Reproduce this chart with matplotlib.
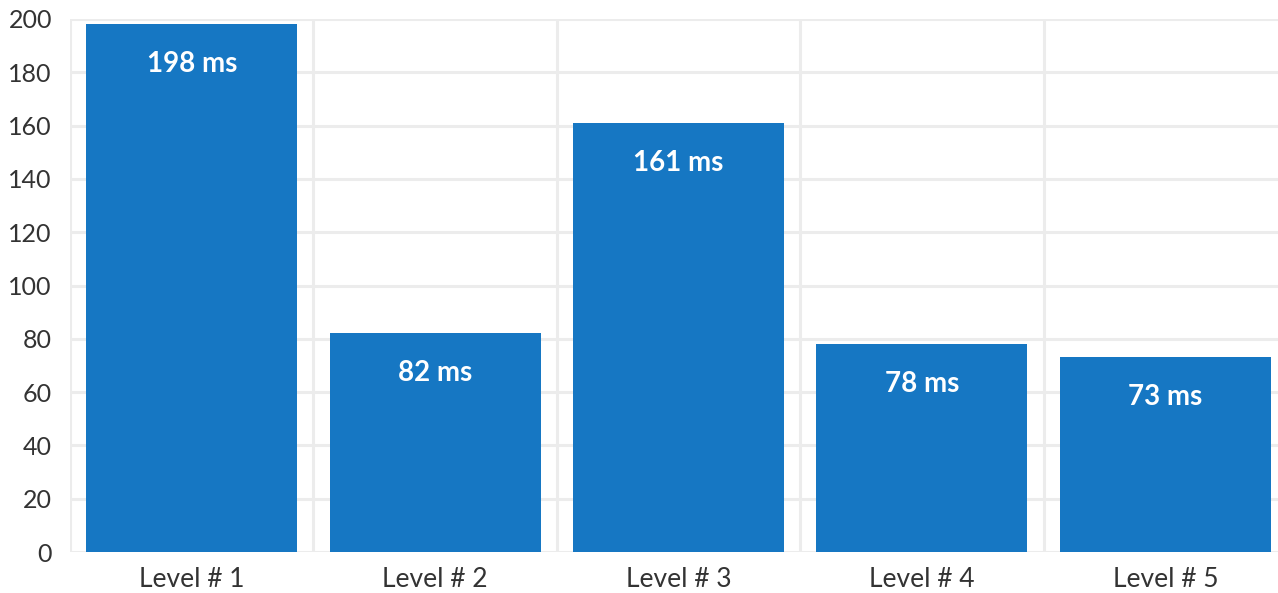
import numpy as np
import matplotlib.pyplot as plt

levels = ['Level # 1', 'Level # 2', 'Level # 3', 'Level # 4', 'Level # 5']
times_ms = [198, 82, 161, 78, 73]
yticks = [0, 20, 40, 60, 80, 100, 120, 140, 160, 180, 200]

plt.rcParams['font.family'] = ['Lato', 'DejaVu Sans']

W, H = 1278, 593
fig = plt.figure(figsize=(W / 100, H / 100), dpi=100)
# plot area: left edge at x=70, bottom at y=552, top at y=19, last category runs slightly past the edge
ax = fig.add_axes([70 / W, (H - 552) / H, (1287 - 70) / W, (552 - 19) / H])

grid_color = '#ececec'
x = np.arange(len(levels))
bars = ax.bar(x, times_ms, width=0.867, color='#1677c3', zorder=3)

ax.set_xlim(-0.5, len(levels) - 0.5)
ax.set_ylim(0, 200)
ax.set_yticks(yticks)
ax.set_xticks(x)
ax.set_xticklabels(levels)

# horizontal grid + vertical separators between categories
for y in yticks:
    ax.axhline(y, color=grid_color, lw=2.2, zorder=1)
for b in np.arange(-0.5, len(levels), 1.0):
    ax.axvline(b, color=grid_color, lw=2.2, zorder=1)

for s in ax.spines.values():
    s.set_visible(False)
ax.tick_params(axis='both', length=0, labelcolor='#333333')
ax.tick_params(axis='y', pad=13, labelsize=18)
ax.tick_params(axis='x', pad=11, labelsize=19)

for rect, v in zip(bars, times_ms):
    ax.annotate(f'{v} ms', (rect.get_x() + rect.get_width() / 2, v),
                xytext=(0, -28.5), textcoords='offset points',
                ha='center', va='center', color='white',
                fontsize=20, fontweight='bold', zorder=4)

fig.savefig('out.png', dpi=100)
